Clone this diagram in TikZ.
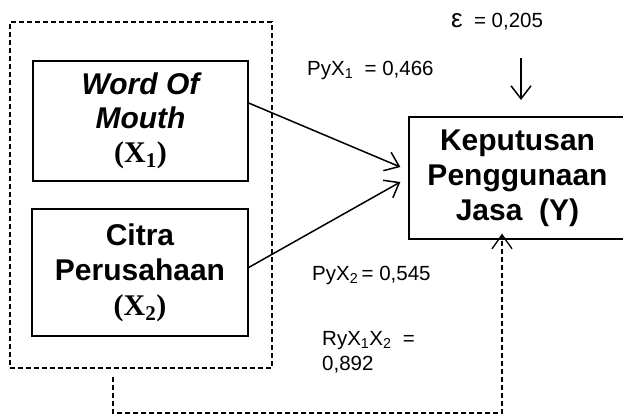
\documentclass[tikz,border=0pt]{standalone}
\usepackage{fontspec}
\setmainfont{Liberation Sans}
\newfontfamily\tnr{Liberation Serif}
\usetikzlibrary{arrows.meta}
\tikzset{
  box/.style={draw, line width=1.3pt, align=center, inner sep=0pt, font=\fontsize{30}{35}\selectfont\bfseries},
  frm/.style={draw, dashed, dash pattern=on 5pt off 3pt, line width=1.2pt, inner sep=0pt},
  lbl/.style={inner sep=0pt, font=\fontsize{20.5}{25}\selectfont},
  arr/.style={line width=1.5pt, -{Straight Barb[length=13pt,width=20pt,line width=1.5pt]}},
  darr/.style={line width=1.3pt, dash pattern=on 5pt off 3pt, -{Straight Barb[length=14pt,width=20pt,line width=1.3pt]}}
}
\begin{document}
\begin{tikzpicture}[x=1pt,y=-1pt]
\useasboundingbox (0,0) rectangle (623,416);
\node[frm, minimum width=262pt, minimum height=346pt] (frame) at (141,195) {};
\node[box, minimum width=215pt, minimum height=120pt] (wom) at (140.5,121)
  {\itshape Word Of\\[-1pt]\itshape Mouth\\[-1pt]{\tnr\bfseries (X\textsubscript{1})}};
\node[box, minimum width=216pt, minimum height=127pt] (citra) at (140,272.5)
  {Citra\\Perusahaan\\{\tnr\bfseries (X\textsubscript{2})}};
\node[box, minimum width=217pt, minimum height=122pt] (ybox) at (517.5,178)
  {Keputusan\\Penggunaan\\Jasa\ \ (Y)};
\node[lbl, anchor=base] (eps) at (497,27) {{\fontsize{26}{26}\selectfont ε}\ \ = 0,205};
\node[lbl, anchor=west] (p1) at (307,70) {PyX\textsubscript{1}\ \ = 0,466};
\node[lbl, anchor=west] (p2) at (312,275) {PyX\textsubscript{2}\,= 0,545};
\node[lbl, anchor=north west, align=left] (r) at (322,331) {RyX\textsubscript{1}X\textsubscript{2}\ \ =\\0,892};
\coordinate (e1) at (521,58);
\coordinate (e2) at (521,100);
\coordinate (d1) at (113,377);
\coordinate (d2) at (502,413);
\draw[arr] ([yshift=18pt]wom.east) -- ([xshift=-8pt,yshift=11pt]ybox.west);
\draw[arr] ([yshift=5pt]citra.east) -- ([xshift=-8pt,yshift=-4pt]ybox.west);
\draw[arr] (e1) -- (e2);
\draw[darr] (d1) |- (d2) -- ([yshift=6pt]ybox.south -| d2);
\end{tikzpicture}
\end{document}
